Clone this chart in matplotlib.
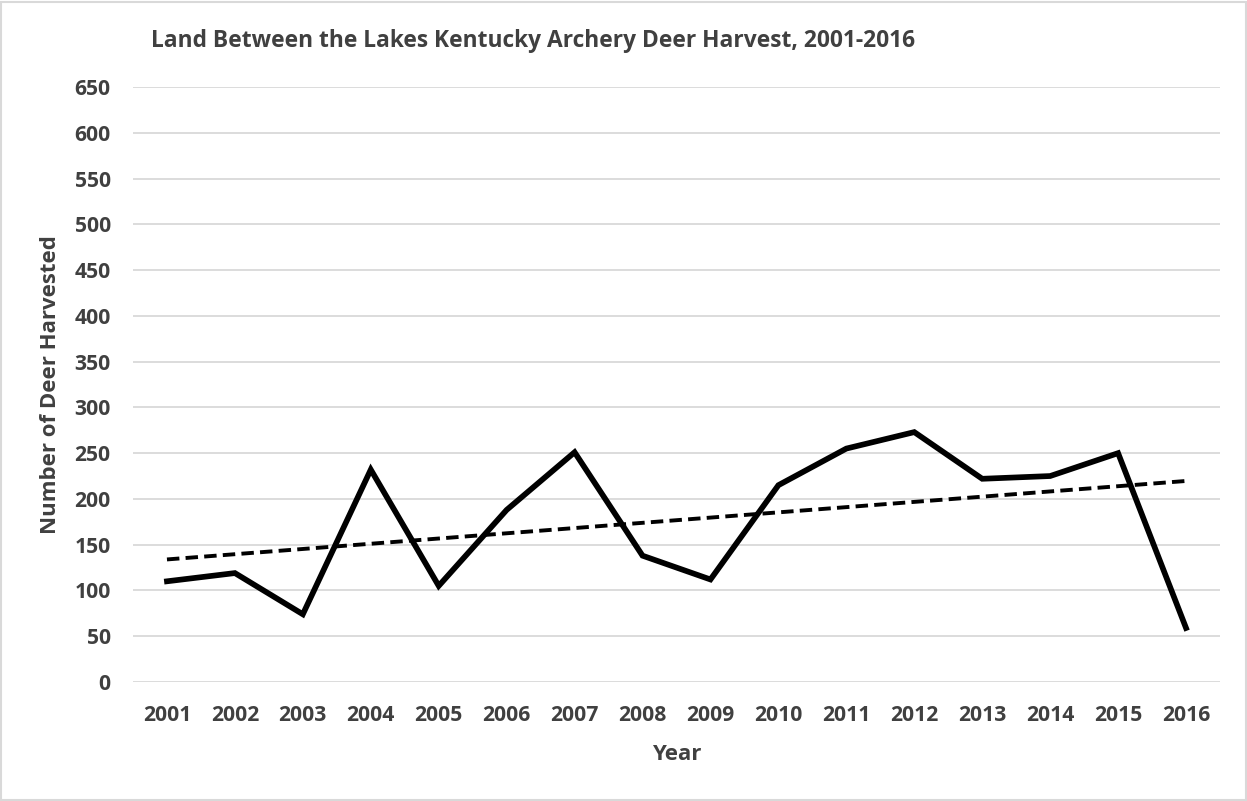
import numpy as np
import matplotlib
matplotlib.use("Agg")
import matplotlib.pyplot as plt

# values
years = ["2001", "2002", "2003", "2004", "2005", "2006", "2007", "2008",
         "2009", "2010", "2011", "2012", "2013", "2014", "2015", "2016"]
harvest = [110, 119, 74, 232, 105, 188, 251, 138,
           112, 215, 255, 273, 222, 225, 250, 59]
y_ticks = list(range(0, 651, 50))

TEXT = "#404040"
GRID = "#d9d9d9"

plt.rcParams["font.family"] = ["Open Sans", "DejaVu Sans"]
plt.rcParams["font.weight"] = "bold"

fig = plt.figure(figsize=(12.47, 8.01), dpi=100)
fig.patch.set_facecolor("white")
fig.patches.append(plt.Rectangle((0.001, 0.001), 0.998, 0.997, transform=fig.transFigure,
                                 fill=False, edgecolor=GRID, linewidth=1.5))

ax = fig.add_axes([133 / 1247, 1 - 682 / 801, 1087 / 1247, (682 - 87) / 801])

x = np.arange(len(years))
ax.plot(x, harvest, color="black", linewidth=4.1, solid_joinstyle="miter", zorder=3)

# linear trendline (as in the spreadsheet)
slope, icpt = np.polyfit(x, harvest, 1)
ax.plot(x, slope * x + icpt, color="black", linewidth=2.8,
        linestyle=(0, (3.2, 1.6)), zorder=3)

ax.set_xlim(-0.5, len(years) - 0.5)
ax.set_ylim(0, 650)
ax.set_yticks(y_ticks)
ax.set_xticks(x)
ax.set_xticklabels(years)
ax.grid(axis="y", color=GRID, linewidth=1.3)
ax.set_axisbelow(True)
for s in ax.spines.values():
    s.set_visible(False)
ax.tick_params(length=0, labelsize=15.2, labelcolor=TEXT)
ax.tick_params(axis="x", pad=16.5)
ax.tick_params(axis="y", pad=16)

ax.set_ylabel("Number of Deer Harvested", fontsize=16, color=TEXT, fontweight="bold", labelpad=10)
ax.set_xlabel("Year", fontsize=16, color=TEXT, fontweight="bold", labelpad=13)

fig.text(151 / 1247, 1 - 41 / 801, "Land Between the Lakes Kentucky Archery Deer Harvest, 2001-2016",
         fontsize=16.4, color=TEXT, fontweight="bold", ha="left", va="center")

fig.savefig("out.png", dpi=100)
